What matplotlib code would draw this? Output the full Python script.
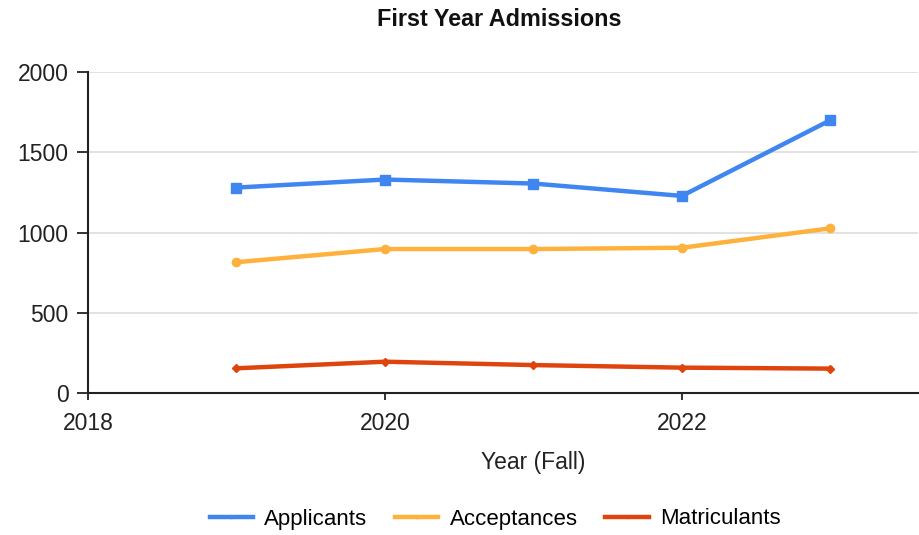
import matplotlib.pyplot as plt

plt.rcParams['font.family'] = ['Liberation Sans', 'DejaVu Sans']

# data
years = [2019, 2020, 2021, 2022, 2023]
applicants = [1280, 1330, 1305, 1228, 1700]
acceptances = [815, 897, 897, 905, 1026]
matriculants = [154, 195, 174, 158, 152]

W, H = 920, 535
fig = plt.figure(figsize=(W / 100, H / 100), dpi=100)
ax = fig.add_axes([88 / W, 1 - 393 / H, 830 / W, 321 / H])

ax.plot(years, applicants, color='#3f86f0', lw=3.2, marker='s', ms=7, label='Applicants')
ax.plot(years, acceptances, color='#ffb13d', lw=3.2, marker='o', ms=6, label='Acceptances')
ax.plot(years, matriculants, color='#e0440e', lw=3.2, marker='D', ms=4, label='Matriculants')

ax.set_xlim(2018, 2023.59)
ax.set_ylim(0, 2000)
ax.set_xticks([2018, 2020, 2022])
ax.set_yticks([0, 500, 1000, 1500, 2000])
ax.tick_params(axis='y', labelsize=16.5, length=8, width=1.3, pad=6, colors='#222222')
ax.tick_params(axis='x', labelsize=16.5, length=5, width=1.3, pad=9, colors='#222222')
ax.grid(axis='y', color='#dddddd', lw=1.2)
ax.set_axisbelow(True)
for s in ['top', 'right']:
    ax.spines[s].set_visible(False)
for s in ['left', 'bottom']:
    ax.spines[s].set_linewidth(1.5)
    ax.spines[s].set_color('#222222')

fig.text(499 / W, 1 - 19 / H, 'First Year Admissions', fontsize=16.8, fontweight='bold',
         ha='center', va='center', color='#111111')
fig.text(533 / W, 1 - 463 / H, 'Year (Fall)', fontsize=16.5, ha='center', va='center',
         color='#222222')

fig.legend(loc='center', bbox_to_anchor=(495 / W, 1 - 519 / H), ncol=3, frameon=False,
           fontsize=16, handlelength=1.95, handletextpad=0.5, columnspacing=1.25,
           markerscale=0.3)

fig.savefig('out.png', dpi=100)
